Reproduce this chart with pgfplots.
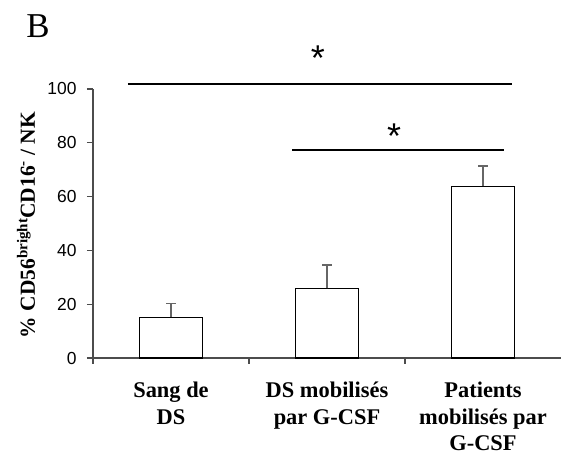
\documentclass[border=0pt]{standalone}
\usepackage{fontspec}
\setmainfont{Liberation Serif}
\newfontfamily\arial{Liberation Sans}
\usepackage{pgfplots}
\pgfplotsset{compat=1.18}
\begin{document}
\begin{tikzpicture}[x=1bp,y=1bp]
\useasboundingbox (-93,-97) rectangle (468,358);
\begin{axis}[
  at={(0,0)}, anchor=south west,
  scale only axis, width=468bp, height=269bp,
  xmin=-0.5, xmax=2.5, ymin=0, ymax=100,
  clip=false,
  axis x line*=bottom, axis y line*=left,
  axis line style={-, draw=black!70, line width=1.1bp},
  tick style={draw=black!70, line width=1.1bp},
  tick align=outside,
  major tick length=6bp,
  ytick={0,20,...,100},
  yticklabel style={font=\arial\fontsize{17.5}{17.5}\selectfont, xshift=-7bp},
  /pgf/number format/assume math mode=true,
  xtick={-0.5,0.5,1.5},
  xticklabels={},
  extra x ticks={0,1,2},
  extra x tick labels={{Sang de\\DS},{DS mobilisés\\par G-CSF},{Patients\\mobilisés par\\G-CSF}},
  extra x tick style={major tick length=0pt, tick style={draw=none},
    xticklabel style={font=\bfseries\fontsize{22.5}{26.5}\selectfont, align=center, anchor=north, inner sep=0pt, yshift=-24bp}},
]
\addplot[ybar, bar width=0.4, fill=white, draw=black, line width=1.2bp,
  error bars/.cd, y dir=plus, y explicit,
  error bar style={draw=black!60, line width=1.2bp},
  error mark options={rotate=90, mark size=5bp, line width=1.2bp, draw=black!60}]
  coordinates {
  (0, 15.2) +- (0, 5.2)
  (1, 25.9) +- (0, 8.7)
  (2, 63.9) +- (0, 7.5)
};
\draw[line width=1.8bp] (axis cs:-0.276,101.9) -- (axis cs:2.186,101.9);
\draw[line width=1.8bp] (axis cs:0.776,77.3) -- (axis cs:2.135,77.3);
\node[font=\arial\fontsize{36}{36}\selectfont] at (axis cs:0.942,111.5) {*};
\node[font=\arial\fontsize{36}{36}\selectfont] at (axis cs:1.43,82.5) {*};
\end{axis}
\node[rotate=90, font=\bfseries\fontsize{21.5}{21.5}\selectfont] at (-67,133) {\% CD56\textsuperscript{bright}CD16\textsuperscript{-} / NK};
\node[font=\fontsize{35}{35}\selectfont] at (-55,332) {B};
\end{tikzpicture}
\end{document}
